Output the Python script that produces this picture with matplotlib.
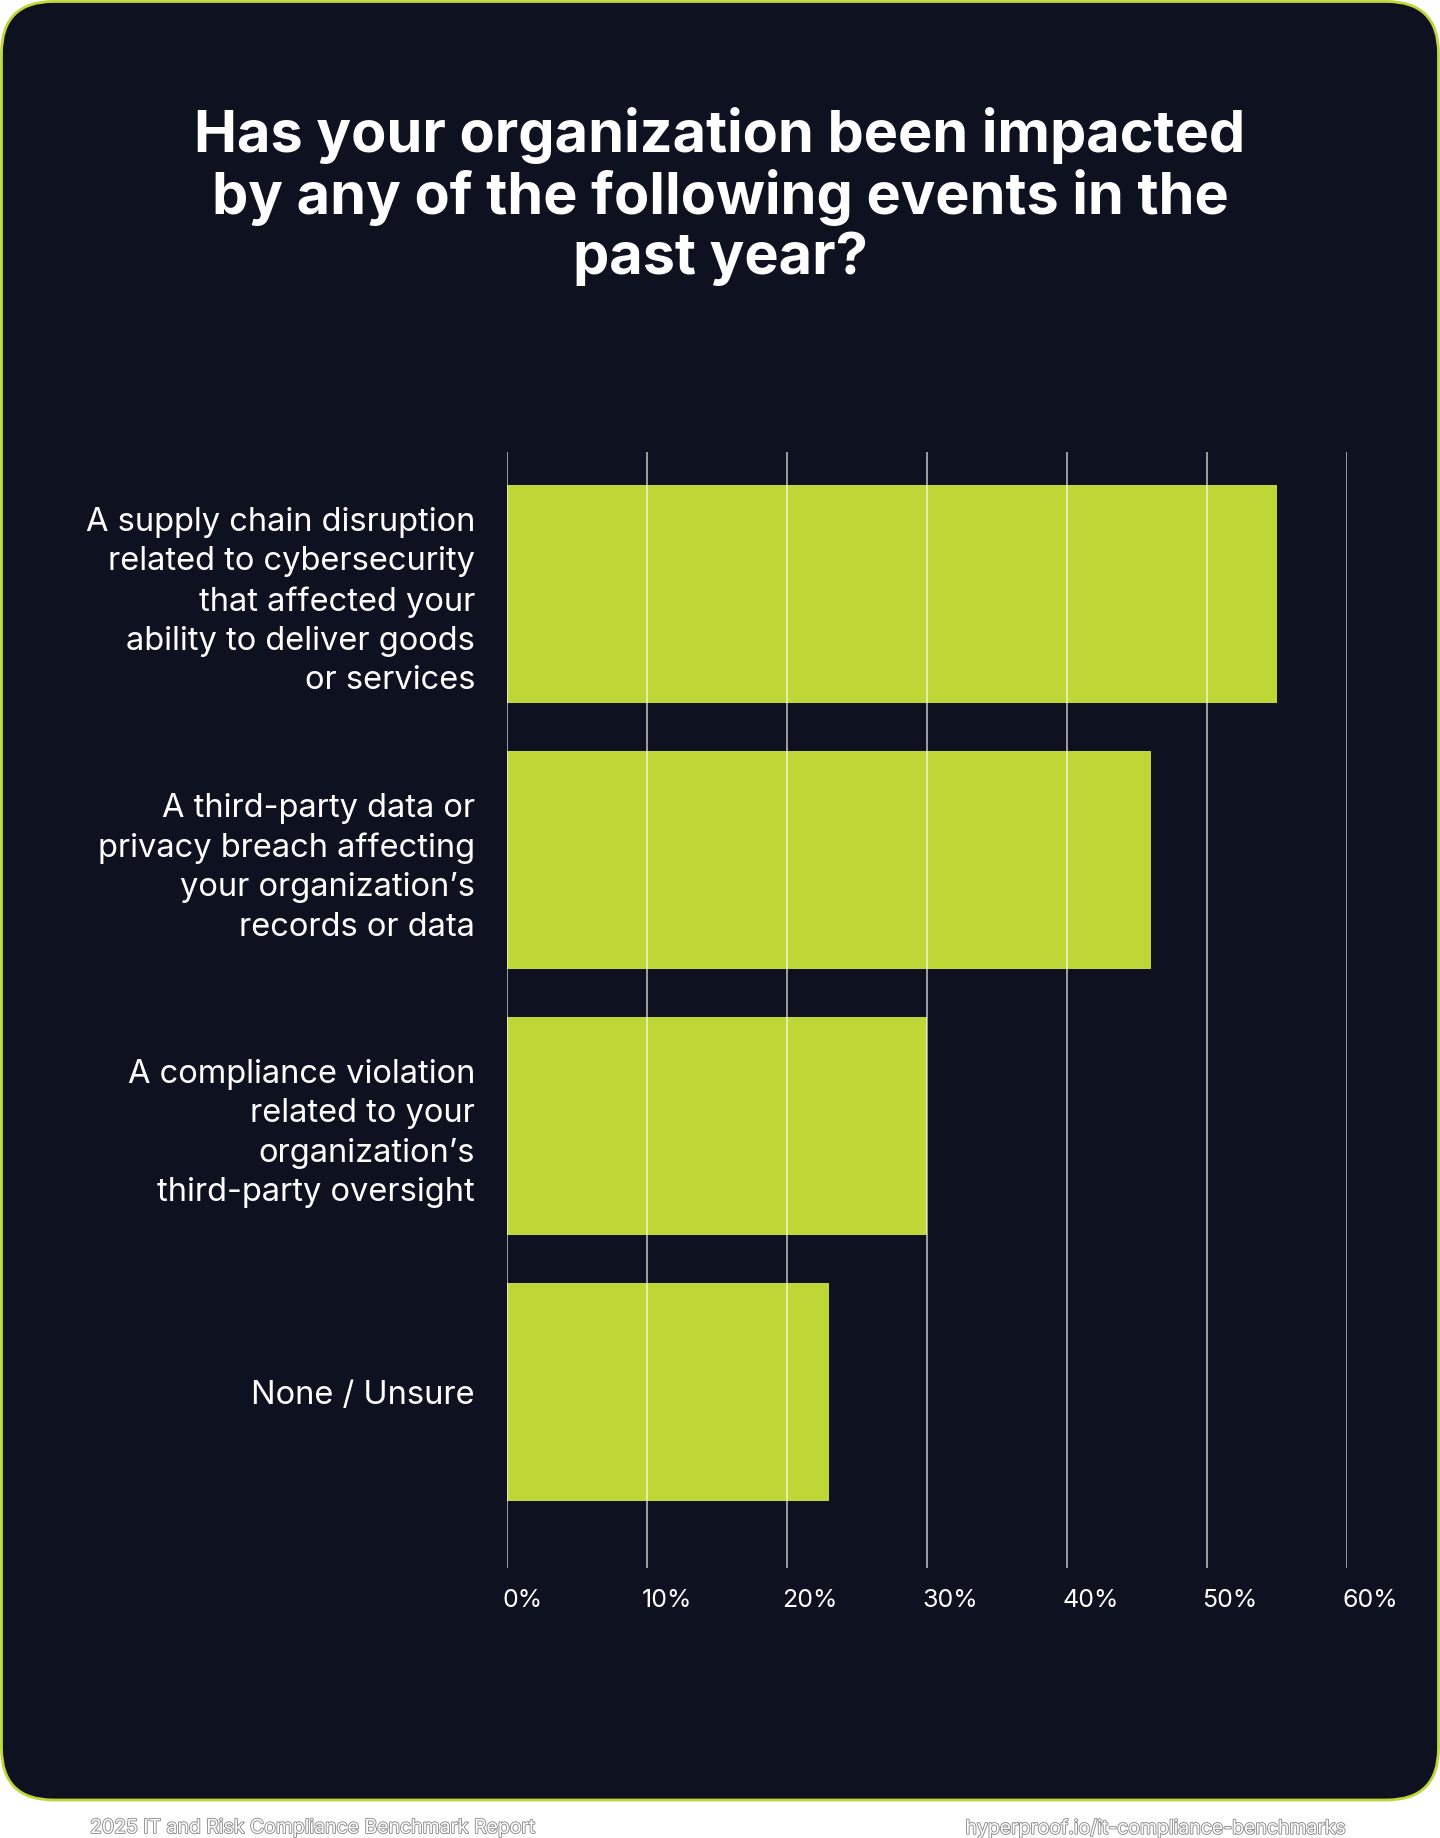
import matplotlib.pyplot as plt
import matplotlib.patheffects as pe
from matplotlib.patches import FancyBboxPatch
from matplotlib.transforms import blended_transform_factory, offset_copy

plt.rcParams['font.family'] = ['Inter', 'DejaVu Sans']

categories = [
    "A supply chain disruption\nrelated to cybersecurity\nthat affected your\nability to deliver goods\nor services",
    "A third-party data or\nprivacy breach affecting\nyour organization\u2019s\nrecords or data",
    "A compliance violation\nrelated to your\norganization\u2019s\nthird-party oversight",
    "None / Unsure",
]
values = [55, 46, 30, 23]
ticks = [0, 10, 20, 30, 40, 50, 60]
tick_labels = ["0%", "10%", "20%", "30%", "40%", "50%", "60%"]

title = "Has your organization been impacted\nby any of the following events in the\npast year?"
footer_left = "2025 IT and Risk Compliance Benchmark Report"
footer_right = "hyperproof.io/it-compliance-benchmarks"

BG = "#0E1120"
LIME = "#BED636"
W, H = 1440, 1838

fig = plt.figure(figsize=(W / 100, H / 100), dpi=100)
fig.patch.set_facecolor("white")

# background card in pixel coordinates
bg = fig.add_axes([0, 0, 1, 1])
bg.set_xlim(0, W)
bg.set_ylim(0, H)
bg.axis("off")
card = FancyBboxPatch((1.5, H - 1800), W - 3, 1800 - 1.5,
                      boxstyle="round,pad=0,rounding_size=52",
                      facecolor=BG, edgecolor=LIME, linewidth=2)
bg.add_patch(card)

bg.text(720, H - 196, title, ha="center", va="center", color="white",
        fontsize=41.5, fontweight="bold", linespacing=1.12)

stroke = [pe.withStroke(linewidth=1.3, foreground="#8c8c8c")]
bg.text(90, H - 1828, footer_left, ha="left", va="center", color="white",
        fontsize=14, path_effects=stroke)
bg.text(1346, H - 1828, footer_right, ha="right", va="center", color="white",
        fontsize=14, path_effects=stroke)

# chart
ax = fig.add_axes([507 / W, 1 - 1568 / H, 840 / W, 1116 / H])
ax.set_facecolor("none")
y = list(range(len(categories)))
ax.barh(y, values, height=0.82, color=LIME, zorder=2)
for t in ticks:
    ax.axvline(t, color="white", alpha=0.75, linewidth=1.1, zorder=3)

ax.set_xlim(0, 60)
ax.set_ylim(3.662, -0.534)
for s in ax.spines.values():
    s.set_visible(False)

ax.set_yticks(y)
ax.set_yticklabels(categories, fontsize=23.5, color="white", linespacing=1.35)
ax.set_xticks([])
ax.tick_params(axis="y", length=0, pad=23)

trans = offset_copy(blended_transform_factory(ax.transData, ax.transAxes),
                    fig=fig, x=-5, y=-21, units="dots")
for t, lab in zip(ticks, tick_labels):
    ax.text(t, 0, lab, transform=trans, ha="left", va="top",
            color="white", fontsize=18)

fig.savefig("out.png", dpi=100, facecolor="white")
